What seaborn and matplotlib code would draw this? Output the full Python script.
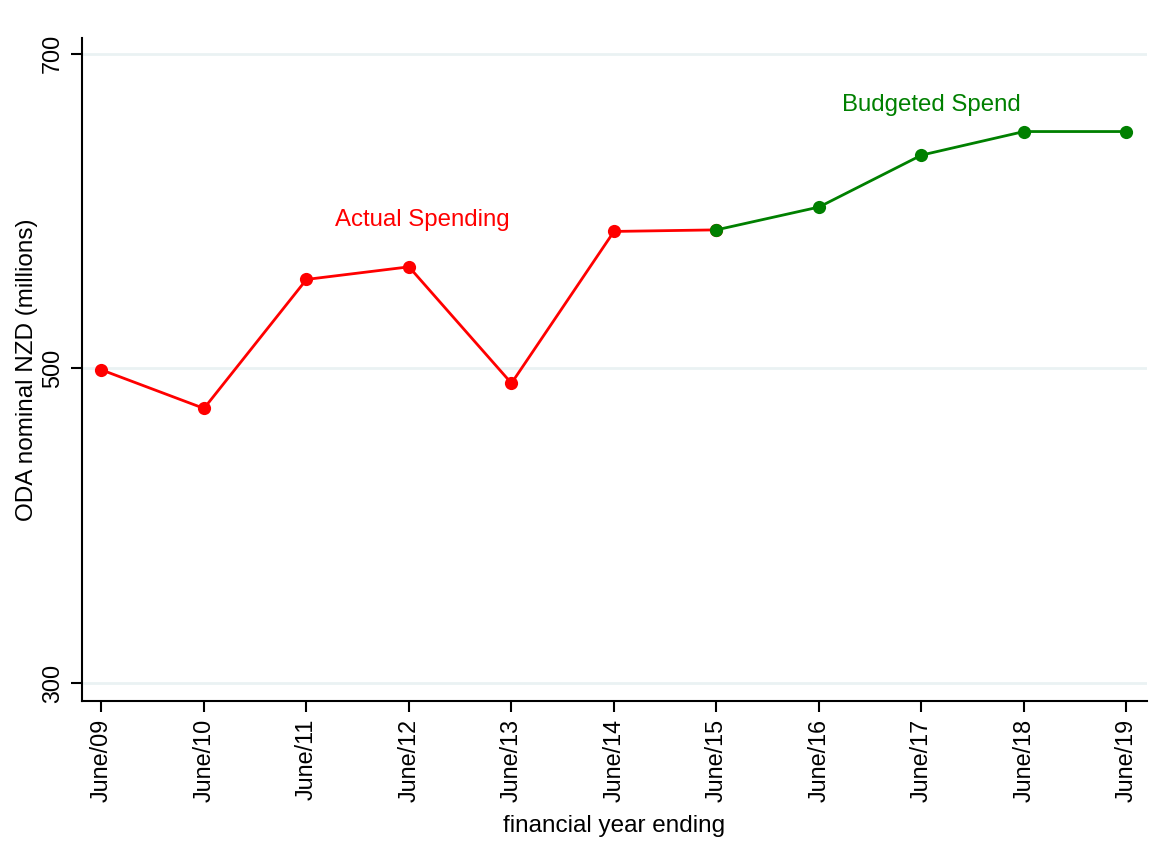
import matplotlib
matplotlib.use("Agg")
import matplotlib.pyplot as plt
import seaborn as sns
import pandas as pd

years = ["June/09", "June/10", "June/11", "June/12", "June/13", "June/14",
         "June/15", "June/16", "June/17", "June/18", "June/19"]
actual_values = [499, 474.5, 556.5, 564.5, 490.5, 587, 588]
budget_values = [588, 602.5, 635.5, 650.5, 650.5]

sns.set_theme(style="white")
plt.rcParams['font.family'] = ['Liberation Sans', 'DejaVu Sans']
plt.rcParams['text.color'] = 'black'
plt.rcParams['axes.labelcolor'] = 'black'

actual_df = pd.DataFrame({"x": list(range(len(actual_values))), "y": actual_values})
budget_df = pd.DataFrame({"x": list(range(6, 6 + len(budget_values))), "y": budget_values})

fig = plt.figure(figsize=(11.65, 8.43), dpi=100)
ax = fig.add_axes([0.0704, 0.1684, 0.9141, 0.7866])

for v in [300, 500, 700]:
    ax.axhline(v, color="#eaf2f3", lw=2, zorder=0)

sns.lineplot(data=actual_df, x="x", y="y", ax=ax, color="#ff0000", lw=2,
             marker="o", markersize=9.5, markeredgewidth=0)
sns.lineplot(data=budget_df, x="x", y="y", ax=ax, color="#008000", lw=2,
             marker="o", markersize=9.5, markeredgewidth=0)

ax.text(3.13, 594, "Actual Spending", color="#ff0000", fontsize=17.3, ha="center", va="center")
ax.text(8.1, 667.5, "Budgeted Spend", color="#008000", fontsize=17.3, ha="center", va="center")

ax.set_xlim(-0.19, 10.2)
ax.set_ylim(288.5, 710)
ax.set_xticks(range(len(years)))
ax.set_xticklabels(years, rotation=90, fontsize=16.8)
ax.set_yticks([300, 500, 700])
ax.set_yticklabels(["300", "500", "700"], rotation=90, va="center", fontsize=16.8)
ax.set_xlabel("financial year ending", fontsize=17.5, labelpad=9, color="black")
ax.set_ylabel("ODA nominal NZD (millions)", fontsize=17.5, labelpad=2, color="black")

for s in ["top", "right"]:
    ax.spines[s].set_visible(False)
for s in ["left", "bottom"]:
    ax.spines[s].set_color("black")
    ax.spines[s].set_linewidth(1.5)
ax.tick_params(axis="both", direction="out", length=8, width=1.5, color="black",
               bottom=True, left=True, labelcolor="black", pad=5)

fig.savefig("out.png", dpi=100, facecolor="white")
